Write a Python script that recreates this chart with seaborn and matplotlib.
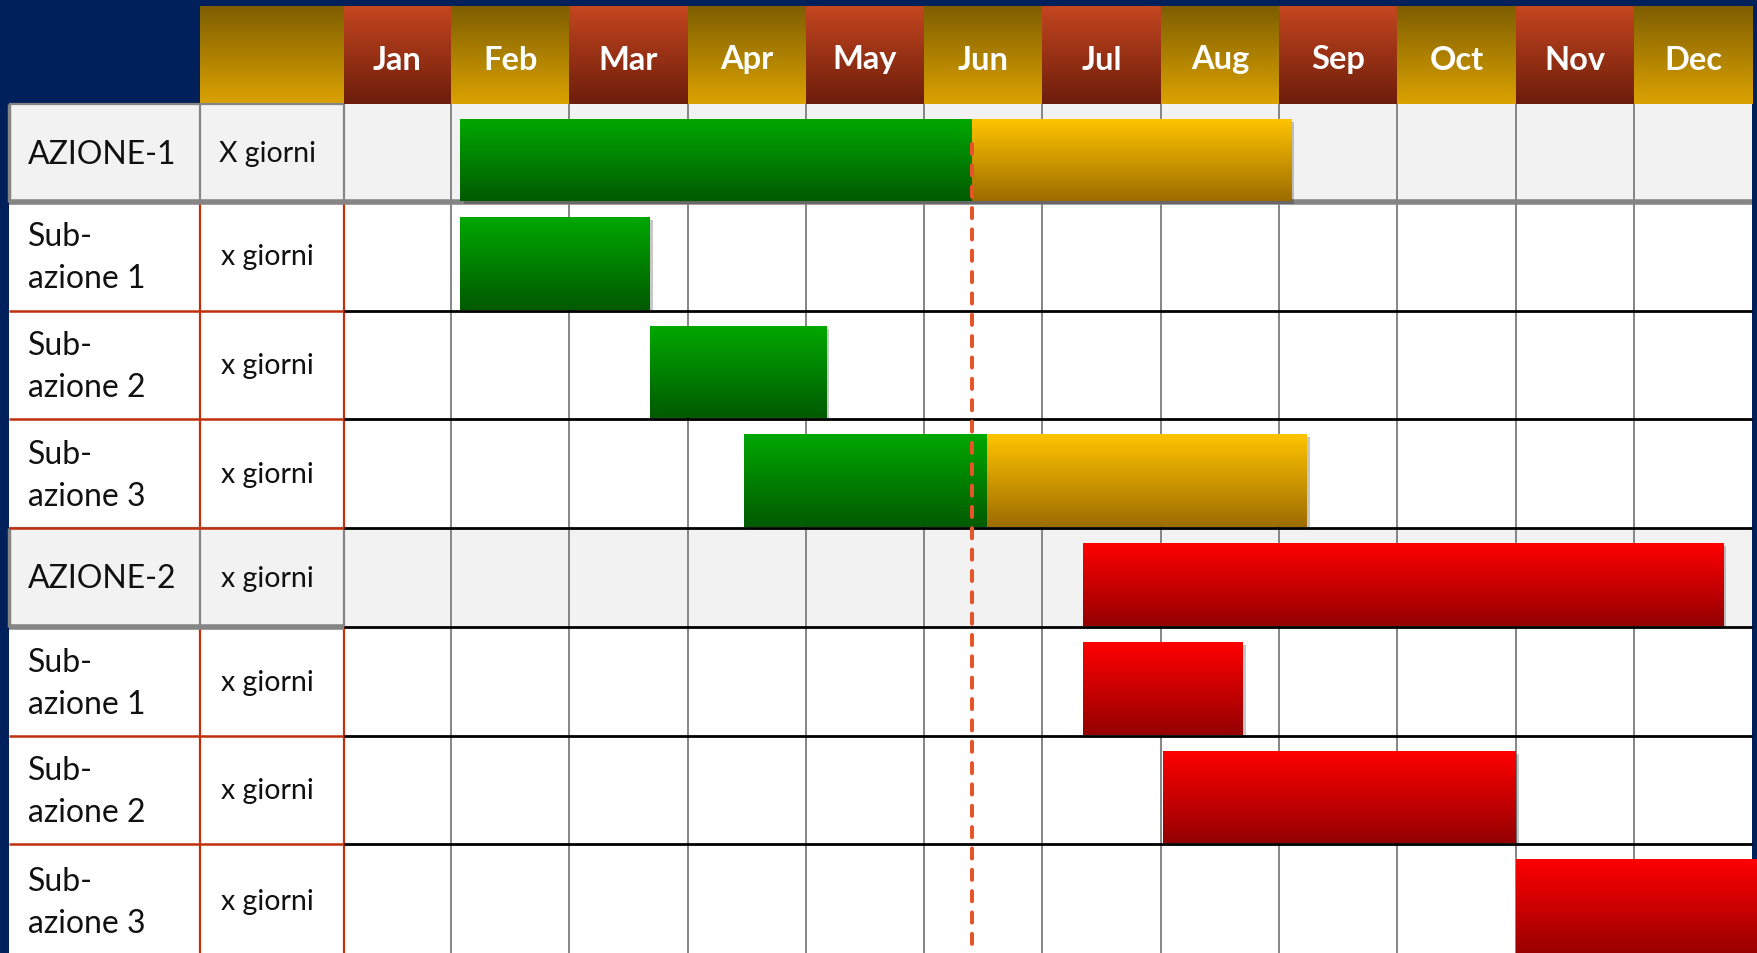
import numpy as np
import matplotlib
matplotlib.use("Agg")
import matplotlib.pyplot as plt
import matplotlib.patheffects as pe
from matplotlib.colors import LinearSegmentedColormap
import seaborn as sns

# ---- data (x in months, Jan = 0..1) ----
months = ["Jan", "Feb", "Mar", "Apr", "May", "Jun",
          "Jul", "Aug", "Sep", "Oct", "Nov", "Dec"]
tasks = ["AZIONE-1", "Sub-\nazione 1", "Sub-\nazione 2", "Sub-\nazione 3",
         "AZIONE-2", "Sub-\nazione 1", "Sub-\nazione 2", "Sub-\nazione 3"]
durations = ["X giorni", "x giorni", "x giorni", "x giorni",
             "x giorni", "x giorni", "x giorni", "x giorni"]
is_main = [True, False, False, False, True, False, False, False]

seg_row = [0, 0, 1, 2, 3, 3, 4, 5, 6, 7]
seg_start = [1.08, 5.40, 1.08, 2.68, 3.48, 5.53, 6.34, 6.34, 7.02, 10.00]
seg_end = [5.40, 8.10, 2.68, 4.17, 5.53, 8.23, 11.75, 7.69, 10.00, 12.10]
seg_status = ["done", "late", "done", "done", "done", "late",
              "todo", "todo", "todo", "todo"]
today = 5.40

# ---- style / layout ----
NAVY = "#00205C"
bar_grad = {"done": ("#00A800", "#005A00"),
            "late": ("#FFC400", "#9C6C00"),
            "todo": ("#FF0000", "#940000")}
head_red = ("#C4461F", "#6C1D0B")
head_gold = ("#7E5E00", "#DBA200")
RED_LINE = "#C0300C"
GRAY_LINE = "#858585"

X_LEFT, X_COL, X_JAN, X_RIGHT = -2.736, -1.122, 0.096, 12.0
HEAD_TOP = 0.07
row_edges = [1.05, 2.03, 3.12, 4.20, 5.29, 6.28, 7.37, 8.45, 9.60]

sns.set_theme(style="white")
plt.rcParams["font.family"] = ["Lato", "DejaVu Sans"]

fig = plt.figure(figsize=(17.58, 9.54), dpi=100, facecolor=NAVY)
ax = fig.add_axes([0, 0, 1, 1])
ax.set_axis_off()


def grad_rect(x0, x1, ytop, ybot, colors, z, clip=None):
    cmap = LinearSegmentedColormap.from_list("g", list(colors))
    g = np.linspace(0, 1, 256).reshape(-1, 1)
    im = ax.imshow(g, cmap=cmap, extent=(x0, x1, ybot, ytop), origin="upper",
                   aspect="auto", interpolation="bilinear", zorder=z)
    if clip is not None:
        im.set_clip_path(clip)
    return im


# header
grad_rect(X_COL, X_JAN, HEAD_TOP, row_edges[0], head_gold, 1)
for i, m in enumerate(months):
    x0 = X_JAN if i == 0 else i
    cols = head_red if i % 2 == 0 else head_gold
    grad_rect(x0, i + 1, HEAD_TOP, row_edges[0], cols, 1)
    ax.text((x0 + i + 1) / 2, 0.60, m, color="white", fontsize=23.5,
            fontweight="bold", ha="center", va="center", zorder=10)

# row backgrounds + texts
for r in range(len(tasks)):
    top, bot = row_edges[r], row_edges[r + 1]
    ax.fill_between([X_LEFT, X_RIGHT], top, bot,
                    color="#F2F2F2" if is_main[r] else "white", lw=0, zorder=0.5)
    ax.text(-2.576, (top + bot) / 2 + 0.01, tasks[r], fontsize=23,
            color="#111111", ha="left", va="center", linespacing=1.5, zorder=10)
    ax.text(-0.555, (top + bot) / 2, durations[r], fontsize=20.5,
            color="#111111", ha="center", va="center", zorder=10)
    # vertical separators of the label columns
    lc = GRAY_LINE if is_main[r] else RED_LINE
    ax.vlines([X_COL, X_JAN], top, bot, colors=lc, lw=1.6, zorder=2)
    if is_main[r]:
        ax.vlines(X_LEFT, top, bot, colors=GRAY_LINE, lw=2.5, zorder=2)
        ax.hlines(top, X_LEFT, X_JAN, colors=GRAY_LINE, lw=1.6, zorder=2)

# month grid lines
ax.vlines(np.arange(1, 12), row_edges[0], row_edges[-1], colors=GRAY_LINE,
          lw=1.4, zorder=1.5)

# horizontal row boundaries
for r in range(len(tasks) - 1):
    y = row_edges[r + 1]
    if is_main[r]:
        ax.hlines(y, X_LEFT, X_JAN, colors=GRAY_LINE, lw=4, zorder=2.5)
        if r == 0:
            ax.hlines(y, X_JAN, X_RIGHT, colors=GRAY_LINE, lw=4, zorder=2.5)
        else:
            ax.hlines(y, X_JAN, X_RIGHT, colors="black", lw=2, zorder=2.5)
    else:
        ax.hlines(y, X_LEFT, X_JAN, colors=RED_LINE, lw=1.8, zorder=2.5)
        ax.hlines(y, X_JAN, X_RIGHT, colors="black", lw=2, zorder=2.5)

# gantt bars
for r, s, e, st in zip(seg_row, seg_start, seg_end, seg_status):
    top = row_edges[r] + 0.15
    bot = row_edges[r + 1] - 0.01
    bars = ax.barh((top + bot) / 2, e - s, left=s, height=bot - top,
                   color=bar_grad[st][1], lw=0, zorder=3)
    p = bars.patches[0]
    p.set_path_effects([pe.SimplePatchShadow(offset=(2.5, -2.5), shadow_rgbFace="black",
                                             alpha=0.22), pe.Normal()])
    grad_rect(s, e, top, bot, bar_grad[st], 3.5, clip=p)

# today marker
ax.plot([today, today], [1.45, row_edges[-1]], color="#E8542A", lw=2.9,
        linestyle=(0, (2.5, 2.8)), dash_capstyle="round", zorder=6)

ax.set_xlim(-2.812, 12.048)
ax.set_ylim(9.54, 0)

fig.savefig("out.png", dpi=100, facecolor=NAVY)
